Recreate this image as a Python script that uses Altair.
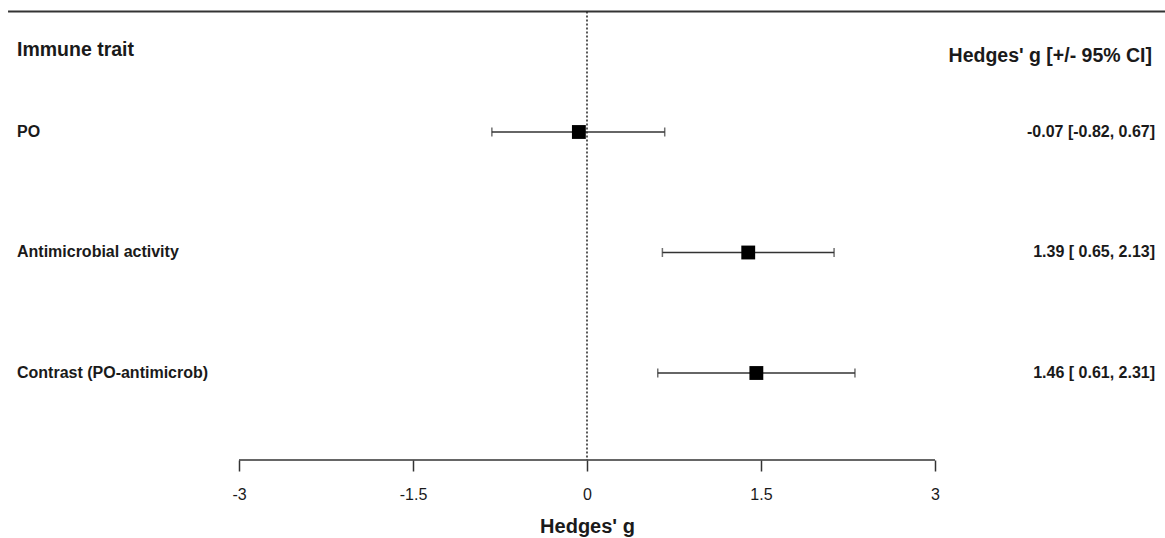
import altair as alt
import pandas as pd

# ---- data ----
traits = ["PO", "Antimicrobial activity", "Contrast (PO-antimicrob)"]
row = [1, 2, 3]
estimate = [-0.07, 1.39, 1.46]
ci_low = [-0.82, 0.65, 0.61]
ci_high = [0.67, 2.13, 2.31]
ci_text = ["-0.07 [-0.82, 0.67]", "1.39 [ 0.65, 2.13]", "1.46 [ 0.61, 2.31]"]
tick_values = [-3, -1.5, 0, 1.5, 3]

df = pd.DataFrame({
    "trait": traits, "row": row, "est": estimate,
    "lo": ci_low, "hi": ci_high, "txt": ci_text,
})

# ---- layout (scale domains chosen so the plot area spans the whole page) ----
W, H = 1165, 460
X_DOM = [-5.0603, 4.9828]
Y_DOM = [-0.0954, 3.722]
FONT = "Liberation Sans"
INK = "#1a1a1a"
LINE = "#333333"

xscale = alt.Scale(domain=X_DOM, nice=False, zero=False)
yscale = alt.Scale(domain=Y_DOM, nice=False, zero=False, reverse=True)
xaxis = alt.Axis(
    values=tick_values, domain=False, grid=False, ticks=True,
    tickSize=11, tickColor=LINE, tickWidth=1.5,
    labelFont=FONT, labelFontSize=16, labelColor=INK, labelPadding=15,
    labelExpr="datum.value + ''", labelFlush=False, labelOverlap=False,
    title="Hedges' g", titleFont=FONT, titleFontSize=20, titleFontWeight="bold",
    titleColor=INK, titleX=587, titleY=56, titleBaseline="top", titleAlign="center",
)


def X(field):
    return alt.X(field, type="quantitative", scale=xscale, axis=xaxis)


def Y(field):
    return alt.Y(field, type="quantitative", scale=yscale, axis=None)


dummy = alt.Data(values=[{}])
base = alt.Chart(df)

top_line = alt.Chart(dummy).mark_rule(color=LINE, strokeWidth=2).encode(
    x=alt.X(datum=-4.991, type="quantitative", scale=xscale, axis=xaxis),
    x2=alt.X2(datum=X_DOM[1]),
    y=alt.Y(datum=0, type="quantitative", scale=yscale, axis=None),
)

zero_line = alt.Chart(dummy).mark_rule(color="#222222", strokeWidth=1.5, strokeDash=[2, 2]).encode(
    x=alt.X(datum=0, type="quantitative", scale=xscale, axis=xaxis),
    y=alt.Y(datum=0, type="quantitative", scale=yscale, axis=None),
    y2=alt.Y2(datum=Y_DOM[1]),
)

axis_line = alt.Chart(dummy).mark_rule(color=LINE, strokeWidth=1.5).encode(
    x=alt.X(datum=-3, type="quantitative", scale=xscale, axis=xaxis),
    x2=alt.X2(datum=3),
    y=alt.Y(datum=Y_DOM[1], type="quantitative", scale=yscale, axis=None),
)

ci = base.mark_rule(color=LINE, strokeWidth=1.5).encode(x=X("lo"), x2="hi", y=Y("row"))
cap_lo = base.mark_tick(color=LINE, orient="vertical", size=9, thickness=1.5).encode(x=X("lo"), y=Y("row"))
cap_hi = base.mark_tick(color=LINE, orient="vertical", size=9, thickness=1.5).encode(x=X("hi"), y=Y("row"))
pts = base.mark_square(color="black", size=192, opacity=1, filled=True).encode(x=X("est"), y=Y("row"))

left_txt = base.mark_text(align="left", baseline="middle", font=FONT, fontSize=16,
                          fontWeight="bold", color=INK).encode(
    x=alt.X(datum=-4.914, type="quantitative", scale=xscale, axis=xaxis),
    y=Y("row"), text="trait")
right_txt = base.mark_text(align="right", baseline="middle", font=FONT, fontSize=16,
                           fontWeight="bold", color=INK).encode(
    x=alt.X(datum=4.897, type="quantitative", scale=xscale, axis=xaxis),
    y=Y("row"), text="txt")

hdr_left = alt.Chart(dummy).mark_text(align="left", baseline="middle", font=FONT, fontSize=19.5,
                                      fontWeight="bold", color=INK).encode(
    x=alt.X(datum=-4.914, type="quantitative", scale=xscale, axis=xaxis),
    y=alt.Y(datum=0.3195, type="quantitative", scale=yscale, axis=None),
    text=alt.value("Immune trait"))
hdr_right = alt.Chart(dummy).mark_text(align="right", baseline="middle", font=FONT, fontSize=19.5,
                                       fontWeight="bold", color=INK).encode(
    x=alt.X(datum=4.871, type="quantitative", scale=xscale, axis=xaxis),
    y=alt.Y(datum=0.369, type="quantitative", scale=yscale, axis=None),
    text=alt.value("Hedges' g [+/- 95% CI]"))

chart = alt.layer(
    top_line, zero_line, axis_line, ci, cap_lo, cap_hi, pts,
    left_txt, right_txt, hdr_left, hdr_right,
).properties(
    width=W, height=H,
    autosize=alt.AutoSizeParams(type="none"),
    padding={"left": 0, "top": 0, "right": 0, "bottom": 78},
    background="white",
).configure_view(stroke=None)

chart.save("out.html", embed_options={"renderer": "svg", "actions": False})
